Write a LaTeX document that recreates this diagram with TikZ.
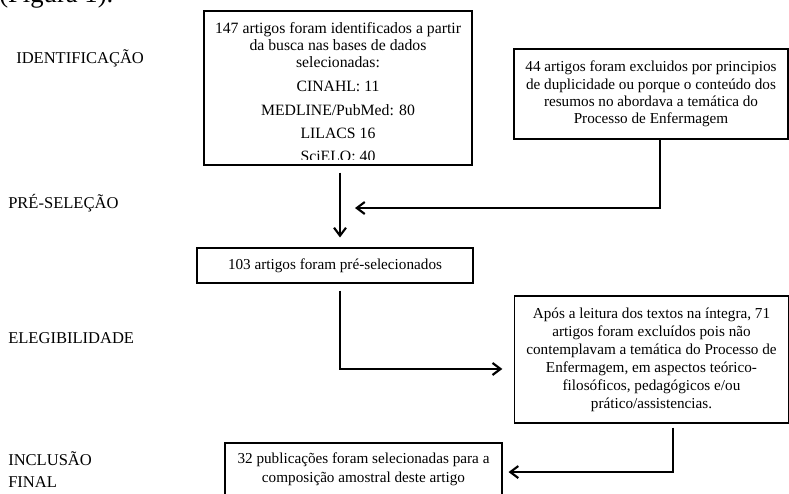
\documentclass[tikz,border=0pt]{standalone}
\usepackage{fontspec}
\setmainfont{Liberation Serif}
\usetikzlibrary{arrows.meta}
\newcommand{\flowfont}{\fontsize{11.4}{13}\selectfont}
\newcommand{\stagefont}{\fontsize{12.4}{15}\selectfont}
\tikzset{
  flowbox/.style={draw, line width=0.8pt, inner sep=0pt, align=center, font=\flowfont},
  stagelabel/.style={anchor=base west, inner sep=0pt, font=\stagefont},
  flowarrow/.style={line width=1.6pt, -{Straight Barb[length=6pt,width=9pt]}}
}

\begin{document}
\begin{tikzpicture}[x=0.75pt, y=-0.75pt]
  \useasboundingbox (0,0) rectangle (789,493);

  % caption line, cut at the top
  \node[anchor=base west, inner sep=0pt, font=\fontsize{20}{24}\selectfont] (caption) at (-1,2) {(Figura 1).};

  % stage labels
  \node[stagelabel] (stageA) at (16,63) {IDENTIFICAÇÃO};
  \node[stagelabel] (stageB) at (8,208) {PRÉ-SELEÇÃO};
  \node[stagelabel] (stageC) at (8,343) {ELEGIBILIDADE};
  \node[stagelabel] (stageD) at (8,465) {INCLUSÃO};
  \node[stagelabel] (stageE) at (8,487) {FINAL};

  % boxes
  \node[flowbox, minimum width=201pt, minimum height=115.5pt] (ident) at (338,88) {};
  \begin{scope}
    \clip (ident.north west) rectangle ([yshift=4.5pt]ident.south east);
    \node[anchor=north, inner sep=0pt, align=center, font=\fontsize{11.8}{13}\selectfont] (identtext)
      at ([yshift=-8.5pt]ident.north)
      {147 artigos foram identificados a partir\\ da busca nas bases de dados\\ selecionadas:\\[5pt]
       CINAHL: 11\\[4.8pt] MEDLINE/PubMed: 80\\[4pt] LILACS 16\\[4.5pt] SciELO: 40};
  \end{scope}

  \node[flowbox, minimum width=205.5pt, minimum height=67.5pt] (excl1) at (651,94)
    {44 artigos foram excluidos por principios\\ de duplicidade ou porque o conteúdo dos\\
     resumos no abordava a temática do\\ Processo de Enfermagem};

  \node[flowbox, minimum width=207pt, minimum height=26.25pt] (presel) at (335,265.5)
    {103 artigos foram pré-selecionados};

  \node[flowbox, minimum width=205pt, minimum height=95.25pt,
        font=\fontsize{11.4}{13.5}\selectfont] (excl2) at (651.5,359.5)
    {Após a leitura dos textos na íntegra, 71\\ artigos foram excluídos pois não\\
     contemplavam a temática do Processo de\\ Enfermagem, em aspectos teórico-\\
     filosóficos, pedagógicos e/ou\\ prático/assistencias.};

  \node[flowbox, minimum width=207.75pt, minimum height=39.75pt,
        font=\fontsize{11.4}{14.5}\selectfont] (final) at (363.5,469.5)
    {32 publicações foram selecionadas para a\\ composição amostral deste artigo};

  % connectors
  \coordinate (mergeA) at (355,208);
  \draw[flowarrow] ([xshift=1.5pt, yshift=-5.25pt]ident.south) -- ([xshift=1.5pt, yshift=7.5pt]ident.south |- presel.north);
  \draw[flowarrow] ([xshift=6.75pt]excl1.south) |- (mergeA);
  \draw[flowarrow] ([xshift=3.75pt, yshift=-5.25pt]presel.south) |- ([xshift=-9pt, yshift=-7.1pt]excl2.west);
  \draw[flowarrow] ([xshift=16.1pt, yshift=-3pt]excl2.south) |- ([xshift=4.5pt, yshift=-1.9pt]final.east);
\end{tikzpicture}
\end{document}
